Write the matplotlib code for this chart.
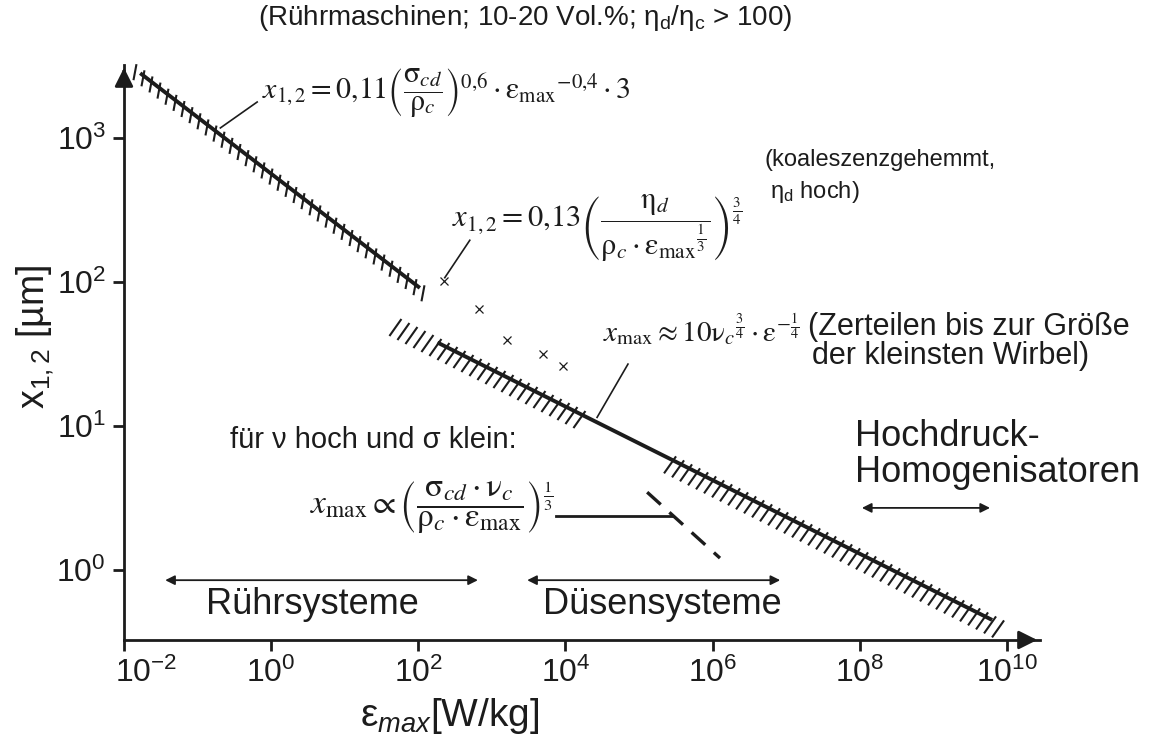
import matplotlib.pyplot as plt
import numpy as np
from matplotlib.collections import LineCollection
from matplotlib.transforms import ScaledTranslation

plt.rcParams['font.family'] = ['Liberation Sans', 'DejaVu Sans']
plt.rcParams['mathtext.fontset'] = 'custom'
plt.rcParams['mathtext.rm'] = 'Liberation Sans'
plt.rcParams['mathtext.it'] = 'Liberation Sans:italic'
plt.rcParams['mathtext.bf'] = 'Liberation Sans:bold'

INK = '#1c1c1c'

# Rührmaschinen, koaleszenzgehemmt: x ~ eps^-0.4
eps_stirr = [0.0166, 105.0]
x_stirr = [2820.0, 91.0]
# Zerteilen bis zur Größe der kleinsten Wirbel: x ~ eps^-1/4
eps_kolm = [182.0, 6.3e9]
x_kolm = [38.0, 0.45]
# Messpunkte (eta_d hoch)
eps_pts = [224, 661, 1622, 5012, 9333]
x_pts = [101.6, 64.6, 39.8, 31.6, 26.3]
# nu hoch, sigma klein (gestrichelt)
eps_dash = [1.29e5, 1.26e6]
x_dash = [3.47, 1.21]

# hatched bands (eps range)
hatch_stirr = [0.0141, 123.0]
hatch_kolm1 = [53.7, 2.14e4]
hatch_kolm2 = [2.9e5, 8.9e9]

# ranges of apparatus types
range_ruehr = [0.0363, 646]
range_duesen = [3020, 8.3e6]
range_hochdruck = [1.07e8, 5.9e9]
y_ranges = [0.85, 0.85, 2.7]

xticks = [1e-2, 1e0, 1e2, 1e4, 1e6, 1e8, 1e10]
xticklabels = ['$10^{-2}$', '$10^{0}$', '$10^{2}$', '$10^{4}$', '$10^{6}$', '$10^{8}$', '$10^{10}$']
yticks = [1, 10, 100, 1000]
yticklabels = ['$10^{0}$', '$10^{1}$', '$10^{2}$', '$10^{3}$']

W, H = 1157, 740


def px(x, y):
    return x / W, 1 - y / H


fig = plt.figure(figsize=(W / 100, H / 100), dpi=100)
ax = fig.add_axes([124 / W, 100 / H, (1040 - 124) / W, (640 - 65) / H])
ax.set_xscale('log')
ax.set_yscale('log')
ax.set_xlim(1e-2, 10 ** 10.45)
ax.set_ylim(10 ** -0.486, 10 ** 3.507)
ax.set_autoscale_on(False)

for s in ['top', 'right']:
    ax.spines[s].set_visible(False)
for s in ['left', 'bottom']:
    ax.spines[s].set_linewidth(2)
    ax.spines[s].set_color(INK)
ax.set_xticks(xticks)
ax.set_xticklabels(xticklabels)
ax.set_yticks(yticks)
ax.set_yticklabels(yticklabels)
ax.minorticks_off()
ax.tick_params(axis='both', direction='out', length=8, width=2, color=INK,
               labelsize=23, labelcolor=INK, pad=5)
# first x label sits right of the axis corner
lab0 = ax.get_xticklabels()[0]
lab0.set_transform(lab0.get_transform() + ScaledTranslation(0.22, 0, fig.dpi_scale_trans))

# axis arrows
ax.annotate('', xy=(1.0, 0), xytext=(0.98, 0), xycoords='axes fraction',
            arrowprops=dict(arrowstyle='-|>', color=INK, lw=2, mutation_scale=28))
ax.annotate('', xy=(0, 1.0), xytext=(0, 0.98), xycoords='axes fraction',
            arrowprops=dict(arrowstyle='-|>', color=INK, lw=2, mutation_scale=28))


def hatch(rng, eps, xs, top, bot, step=8.0):
    to_px = ax.transData.transform
    to_data = ax.transData.inverted().transform
    p0, p1 = to_px([(eps[0], xs[0]), (eps[1], xs[1])])
    k = (p1[1] - p0[1]) / (p1[0] - p0[0])
    a = to_px([(rng[0], 1.0)])[0][0]
    b = to_px([(rng[1], 1.0)])[0][0]
    segs = []
    for u in np.arange(a, b, step):
        v = p0[1] + k * (u - p0[0])
        segs.append(to_data([(u + top[0], v + top[1]), (u + bot[0], v + bot[1])]))
    ax.add_collection(LineCollection(segs, colors=INK, linewidths=1.5, clip_on=False))


hatch(hatch_stirr, eps_stirr, x_stirr, (1.5, 5), (-1.5, -11))
hatch(hatch_kolm1, eps_kolm, x_kolm, (3, 4), (-9, -13))
hatch(hatch_kolm2, eps_kolm, x_kolm, (3, 4), (-9, -13))

ax.plot(eps_stirr, x_stirr, color=INK, lw=2.8, solid_capstyle='butt')
ax.plot(eps_kolm, x_kolm, color=INK, lw=2.8, solid_capstyle='butt')
ax.plot(eps_dash, x_dash, color=INK, lw=2.4, dashes=(5.5, 3.5))
ax.plot(eps_pts, x_pts, 'x', color=INK, ms=6, mew=0.9)

# leader lines
ax.plot([10 ** -0.19, 10 ** -0.69], [10 ** 3.25, 10 ** 3.07], color=INK, lw=1.2)
ax.plot([10 ** 2.36, 10 ** 2.70], [10 ** 2.03, 10 ** 2.29], color=INK, lw=1.2)
ax.plot([10 ** 4.85, 10 ** 4.43], [10 ** 1.43, 10 ** 1.06], color=INK, lw=1.2)
ax.plot([10 ** 3.87, 10 ** 5.45], [10 ** 0.375, 10 ** 0.375], color=INK, lw=2.0)

# ranges
for r, yy in zip([range_ruehr, range_duesen, range_hochdruck], y_ranges):
    ax.annotate('', xy=(r[1], yy), xytext=(r[0], yy),
                arrowprops=dict(arrowstyle='<|-|>', color=INK, lw=1.3,
                                mutation_scale=14, shrinkA=0, shrinkB=0))

# axis labels
fig.text(*px(35, 337), 'x$_{1,2}$ [µm]', rotation=90, fontsize=27, color=INK,
         ha='center', va='center')
fig.text(*px(450, 716), 'ε$_{\\mathit{max}}$[W/kg]', fontsize=28, color=INK,
         ha='center', va='center')

# sans texts
fig.text(*px(525, 18), '(Rührmaschinen; 10-20 Vol.%; η$_\\mathrm{d}$/η$_\\mathrm{c}$ > 100)',
         fontsize=20, color=INK, ha='center', va='center')
fig.text(*px(764, 160), '(koaleszenzgehemmt,', fontsize=17, color=INK, va='center')
fig.text(*px(770, 192), 'η$_\\mathrm{d}$ hoch)', fontsize=17, color=INK, va='center')
fig.text(*px(808, 327), '(Zerteilen bis zur Größe', fontsize=22, color=INK, va='center')
fig.text(*px(812, 356), 'der kleinsten Wirbel)', fontsize=22, color=INK, va='center')
fig.text(*px(230, 440), 'für ν hoch und σ klein:', fontsize=21, color=INK, va='center')
fig.text(*px(855, 437), 'Hochdruck-', fontsize=26, color=INK, va='center')
fig.text(*px(855, 472), 'Homogenisatoren', fontsize=26, color=INK, va='center')
fig.text(*px(312, 605), 'Rührsysteme', fontsize=26, color=INK, ha='center', va='center')
fig.text(*px(662, 605), 'Düsensysteme', fontsize=26, color=INK, ha='center', va='center')

# formulas
f1 = (r'$x_{1,2}=0{,}11\left(\dfrac{\mathrm{\sigma}_{cd}}{\mathrm{\rho}_{c}}\right)^{0{,}6}'
      r'\cdot\mathrm{\varepsilon}_{\mathrm{max}}{}^{-0{,}4}\cdot 3$')
f2 = (r'$x_{1,2}=0{,}13\left(\dfrac{\mathrm{\eta}_{d}}{\mathrm{\rho}_{c}\cdot'
      r'\mathrm{\varepsilon}_{\mathrm{max}}{}^{\frac{1}{3}}}\right)^{\frac{3}{4}}$')
f3 = r'$x_{\mathrm{max}}\approx 10\mathrm{\nu}_{c}{}^{\frac{3}{4}}\cdot\mathrm{\varepsilon}^{-\frac{1}{4}}$'
f4 = (r'$x_{\mathrm{max}}\propto\left(\dfrac{\mathrm{\sigma}_{cd}\cdot\mathrm{\nu}_{c}}'
      r'{\mathrm{\rho}_{c}\cdot\mathrm{\varepsilon}_{\mathrm{max}}}\right)^{\frac{1}{3}}$')
for f, (x0, y0), fs in zip([f1, f2, f3, f4], [(262, 93), (452, 228), (603, 330), (310, 507)],
                           [21.5, 22, 21, 24]):
    fig.text(*px(x0, y0), f, fontsize=fs, color=INK, va='center', math_fontfamily='stix')

fig.savefig('out.png', dpi=100)
